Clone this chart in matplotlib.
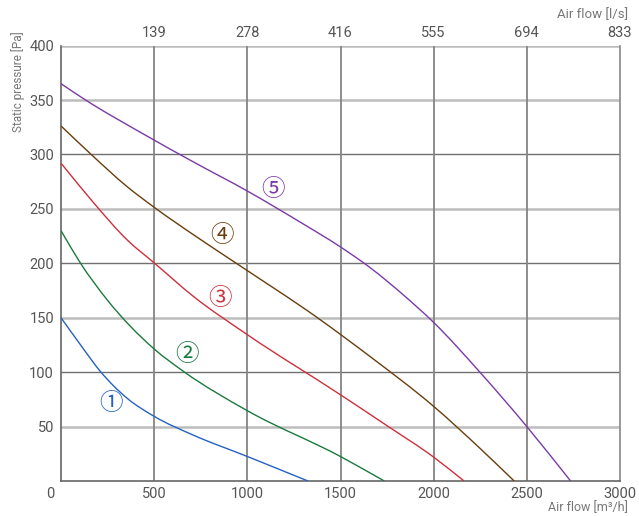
import matplotlib
matplotlib.use("Agg")
import matplotlib.pyplot as plt
import matplotlib.transforms as mtransforms
from matplotlib.path import Path
from matplotlib.patches import PathPatch
import numpy as np

# curve points (air flow m3/h, static pressure Pa)
x1 = [0, 105, 212, 355, 502, 712, 1002, 1325]
y1 = [150, 125, 100.5, 76, 59.2, 42, 22.4, 0]
x2 = [0, 105, 248, 502, 659, 1002, 1501, 1735]
y2 = [230, 200, 166.4, 121, 100.5, 64.4, 22.4, 0]
x3 = [0, 177, 355, 502, 712, 1002, 1501, 1748, 2001, 2163]
y3 = [292, 255.2, 221.5, 200.1, 169.4, 134.2, 79.1, 51, 21.8, 0]
x4 = [0, 162, 355, 502, 712, 962, 1373, 1659, 2001, 2248, 2432]
y4 = [326.2, 300, 270.4, 251.2, 226.1, 197.6, 150.4, 114.3, 68.4, 30.1, 0]
x5 = [0, 132, 444, 712, 1002, 1282, 1500, 1659, 1837, 2001, 2248, 2500, 2735]
y5 = [365, 350, 318.6, 293, 266.2, 238, 215, 196, 171, 145.5, 100, 50, 0]

curve_names = ["①", "②", "③", "④", "⑤"]
label_x = [266, 679, 855, 867, 1137]
label_y = [70.8, 115.8, 167.9, 225.4, 268]
colors = ["#2462c0", "#1b7a3e", "#cf2f3b", "#6a3d0c", "#7a3aa6"]

xticks = [500, 1000, 1500, 2000, 2500, 3000]
yticks = [50, 100, 150, 200, 250, 300, 350, 400]
ls_ticks = [139, 278, 416, 555, 694, 833]


def smooth_path(xs, ys):
    # hermite curve through the read points, drawn as cubic bezier segments
    x = np.asarray(xs, float)
    y = np.asarray(ys, float)
    h = np.diff(x)
    s = np.diff(y) / h
    m = np.empty_like(y)
    m[0], m[-1] = s[0], s[-1]
    m[1:-1] = (h[:-1] * s[1:] + h[1:] * s[:-1]) / (h[:-1] + h[1:])
    verts = [(x[0], y[0])]
    codes = [Path.MOVETO]
    for i in range(len(h)):
        verts += [(x[i] + h[i] / 3, y[i] + m[i] * h[i] / 3),
                  (x[i + 1] - h[i] / 3, y[i + 1] - m[i + 1] * h[i] / 3),
                  (x[i + 1], y[i + 1])]
        codes += [Path.CURVE4] * 3
    return Path(verts, codes)


plt.rcParams['font.family'] = ['Roboto', 'DejaVu Sans', 'Noto Sans CJK SC']
tc = "#555555"

fig = plt.figure(figsize=(6.39, 5.16), dpi=100)
ax = fig.add_axes([61 / 639, 35 / 516, 559 / 639, 435.4 / 516])
ax.set_xlim(0, 3000)
ax.set_ylim(0, 400)

# grid: alternating heavy/light horizontal lines
for v in yticks:
    if v % 100 == 50 or v == 400:
        ax.axhline(v, color="#bdbdbd", lw=1.8, zorder=1)
    else:
        ax.axhline(v, color="#707070", lw=1.0, zorder=1)
for v in xticks[:-1]:
    ax.axvline(v, color="#858585", lw=1.3, zorder=1)

for xs, ys, c in zip([x1, x2, x3, x4, x5], [y1, y2, y3, y4, y5], colors):
    ax.add_patch(PathPatch(smooth_path(xs, ys), fill=False, edgecolor=c,
                           lw=1.0, zorder=3, clip_on=True))

for name, lx, ly, c in zip(curve_names, label_x, label_y, colors):
    ax.text(lx, ly, name, color=c, fontsize=17, ha="center", va="center",
            family=['Noto Sans CJK JP', 'DejaVu Sans'], zorder=4)

for s in ["left", "bottom"]:
    ax.spines[s].set_color("#666666")
    ax.spines[s].set_linewidth(1.2)
ax.spines["right"].set_color("#888888")
ax.spines["right"].set_linewidth(1.2)
ax.spines["top"].set_visible(False)

ax.set_xticks([0] + xticks)
ax.set_xticklabels(["0"] + [str(v) for v in xticks])
ax.set_yticks(yticks)
ax.tick_params(length=0, labelsize=10.5, labelcolor=tc, pad=5)
ax.tick_params(axis="x", pad=4)
# shift the "0" label left, like the reference
zl = ax.get_xticklabels()[0]
zl.set_transform(zl.get_transform() + mtransforms.ScaledTranslation(-0.11, 0, fig.dpi_scale_trans))

sec = ax.secondary_xaxis("top", functions=(lambda x: x / 3.6, lambda x: x * 3.6))
sec.set_xticks(ls_ticks)
sec.set_xticklabels([str(v) for v in ls_ticks])
sec.tick_params(length=0, labelsize=10.5, labelcolor=tc, pad=4)
sec.spines["top"].set_visible(False)

fig.text(18 / 639, 1 - 82 / 516, "Static pressure [Pa]", rotation=90, ha="center",
         va="center", fontsize=8.5, color="#777777")
fig.text(628 / 639, 1 - 508 / 516, "Air flow [m³/h]", ha="right", va="center",
         fontsize=9, color="#777777")
fig.text(628 / 639, 1 - 15 / 516, "Air flow [l/s]", ha="right", va="center",
         fontsize=9.5, color="#777777")

fig.savefig("out.png", dpi=100, facecolor="white")
